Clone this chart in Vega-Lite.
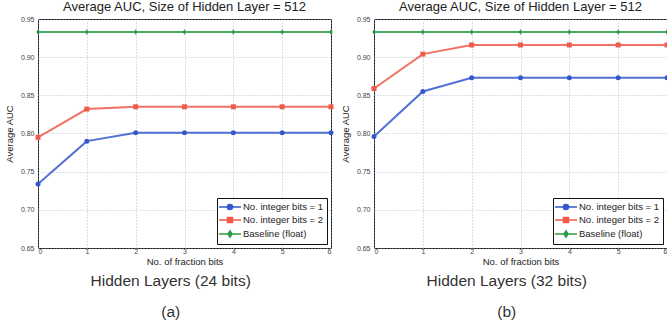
{
  "$schema": "https://vega.github.io/schema/vega-lite/v6.json",
  "padding": {"left": 3, "top": 0, "right": 0, "bottom": 0},
  "background": "white",
  "datasets": {
    "auc": [
      {"panel": "a", "series": "No. integer bits = 1", "bits": 0, "auc": 0.734},
      {"panel": "a", "series": "No. integer bits = 1", "bits": 1, "auc": 0.790},
      {"panel": "a", "series": "No. integer bits = 1", "bits": 2, "auc": 0.801},
      {"panel": "a", "series": "No. integer bits = 1", "bits": 3, "auc": 0.801},
      {"panel": "a", "series": "No. integer bits = 1", "bits": 4, "auc": 0.801},
      {"panel": "a", "series": "No. integer bits = 1", "bits": 5, "auc": 0.801},
      {"panel": "a", "series": "No. integer bits = 1", "bits": 6, "auc": 0.801},
      {"panel": "a", "series": "No. integer bits = 2", "bits": 0, "auc": 0.795},
      {"panel": "a", "series": "No. integer bits = 2", "bits": 1, "auc": 0.832},
      {"panel": "a", "series": "No. integer bits = 2", "bits": 2, "auc": 0.835},
      {"panel": "a", "series": "No. integer bits = 2", "bits": 3, "auc": 0.835},
      {"panel": "a", "series": "No. integer bits = 2", "bits": 4, "auc": 0.835},
      {"panel": "a", "series": "No. integer bits = 2", "bits": 5, "auc": 0.835},
      {"panel": "a", "series": "No. integer bits = 2", "bits": 6, "auc": 0.835},
      {"panel": "a", "series": "Baseline (float)", "bits": 0, "auc": 0.933},
      {"panel": "a", "series": "Baseline (float)", "bits": 1, "auc": 0.933},
      {"panel": "a", "series": "Baseline (float)", "bits": 2, "auc": 0.933},
      {"panel": "a", "series": "Baseline (float)", "bits": 3, "auc": 0.933},
      {"panel": "a", "series": "Baseline (float)", "bits": 4, "auc": 0.933},
      {"panel": "a", "series": "Baseline (float)", "bits": 5, "auc": 0.933},
      {"panel": "a", "series": "Baseline (float)", "bits": 6, "auc": 0.933},
      {"panel": "b", "series": "No. integer bits = 1", "bits": 0, "auc": 0.796},
      {"panel": "b", "series": "No. integer bits = 1", "bits": 1, "auc": 0.855},
      {"panel": "b", "series": "No. integer bits = 1", "bits": 2, "auc": 0.873},
      {"panel": "b", "series": "No. integer bits = 1", "bits": 3, "auc": 0.873},
      {"panel": "b", "series": "No. integer bits = 1", "bits": 4, "auc": 0.873},
      {"panel": "b", "series": "No. integer bits = 1", "bits": 5, "auc": 0.873},
      {"panel": "b", "series": "No. integer bits = 1", "bits": 6, "auc": 0.873},
      {"panel": "b", "series": "No. integer bits = 2", "bits": 0, "auc": 0.859},
      {"panel": "b", "series": "No. integer bits = 2", "bits": 1, "auc": 0.904},
      {"panel": "b", "series": "No. integer bits = 2", "bits": 2, "auc": 0.916},
      {"panel": "b", "series": "No. integer bits = 2", "bits": 3, "auc": 0.916},
      {"panel": "b", "series": "No. integer bits = 2", "bits": 4, "auc": 0.916},
      {"panel": "b", "series": "No. integer bits = 2", "bits": 5, "auc": 0.916},
      {"panel": "b", "series": "No. integer bits = 2", "bits": 6, "auc": 0.916},
      {"panel": "b", "series": "Baseline (float)", "bits": 0, "auc": 0.933},
      {"panel": "b", "series": "Baseline (float)", "bits": 1, "auc": 0.933},
      {"panel": "b", "series": "Baseline (float)", "bits": 2, "auc": 0.933},
      {"panel": "b", "series": "Baseline (float)", "bits": 3, "auc": 0.933},
      {"panel": "b", "series": "Baseline (float)", "bits": 4, "auc": 0.933},
      {"panel": "b", "series": "Baseline (float)", "bits": 5, "auc": 0.933},
      {"panel": "b", "series": "Baseline (float)", "bits": 6, "auc": 0.933}
    ]
  },
  "config": {
    "font": "Liberation Sans",
    "view": {"stroke": "#111", "strokeWidth": 1},
    "axis": {
      "grid": true,
      "gridColor": "#9fb0c8",
      "gridDash": [1, 2],
      "gridWidth": 0.8,
      "domain": false,
      "ticks": false,
      "labelFontSize": 7,
      "labelColor": "#444",
      "titleFontSize": 9.5,
      "titleFontWeight": "normal",
      "titleColor": "#222"
    },
    "title": {"font": "Liberation Sans"}
  },
  "resolve": {"legend": {"color": "independent", "stroke": "independent", "shape": "independent"}, "scale": {"color": "independent", "stroke": "independent", "shape": "independent"}},
  "spacing": 1,
  "hconcat": [
    {
      "resolve": {"legend": {"color": "independent", "stroke": "independent", "shape": "independent"}},
      "title": {"text": ["Hidden Layers (24 bits)", "(a)"], "orient": "bottom", "fontSize": 15.5, "fontWeight": "normal", "color": "#333", "lineHeight": 31, "offset": 8, "anchor": "middle"},
      "vconcat": [
        {
          "width": 293,
          "height": 229,
          "title": {"text": "Average AUC, Size of Hidden Layer = 512", "fontSize": 13, "fontWeight": "normal", "color": "#222", "offset": 1},
          "data": {"name": "auc"},
          "transform": [{"filter": "datum.panel === 'a'"}],
          "encoding": {
            "x": {"field": "bits", "type": "quantitative", "scale": {"domain": [0, 6], "nice": false}, "axis": {"title": "No. of fraction bits", "values": [0, 1, 2, 3, 4, 5, 6], "format": "d", "labelPadding": -1, "titlePadding": 2}},
            "y": {"field": "auc", "type": "quantitative", "scale": {"domain": [0.65, 0.95], "nice": false, "zero": false}, "axis": {"title": "Average AUC", "values": [0.65, 0.7, 0.75, 0.8, 0.85, 0.9, 0.95], "format": ".2f", "labelPadding": 4, "titlePadding": 6}}
          },
          "layer": [
            {"mark": {"type": "point", "filled": true, "opacity": 0},
             "encoding": {
               "color": {"field": "series", "type": "nominal", "scale": {"domain": ["No. integer bits = 1", "No. integer bits = 2", "Baseline (float)"], "range": ["#3558cc", "#f05a48", "#2f9a45"]},
                 "legend": {"title": null, "orient": "bottom-right", "offset": 4, "padding": 3, "strokeColor": "#111", "fillColor": "white", "cornerRadius": 0, "labelFontSize": 9.5, "labelColor": "#222", "symbolSize": 100, "symbolOffset": 4, "labelOffset": 7, "rowPadding": 1, "symbolStrokeWidth": 1.6, "symbolOpacity": 1}},
               "stroke": {"field": "series", "type": "nominal", "scale": {"domain": ["No. integer bits = 1", "No. integer bits = 2", "Baseline (float)"], "range": ["#3558cc", "#f05a48", "#2f9a45"]},
                 "legend": {"title": null, "orient": "bottom-right", "offset": 4, "padding": 3, "strokeColor": "#111", "fillColor": "white", "cornerRadius": 0, "labelFontSize": 9.5, "labelColor": "#222", "symbolSize": 100, "symbolOffset": 4, "labelOffset": 7, "rowPadding": 1, "symbolStrokeWidth": 1.6, "symbolOpacity": 1}},
               "shape": {"field": "series", "type": "nominal", "scale": {"domain": ["No. integer bits = 1", "No. integer bits = 2", "Baseline (float)"], "range": ["M-2.2,0L2.2,0M0.5,0A0.5,0.5,0,1,1,-0.5,0A0.5,0.5,0,1,1,0.5,0Z", "M-2.2,0L2.2,0M-0.5,-0.5L0.5,-0.5L0.5,0.5L-0.5,0.5Z", "M-2.2,0L2.2,0M0,-0.6L0.4,0L0,0.6L-0.4,0Z"]},
                 "legend": {"title": null, "orient": "bottom-right", "offset": 4, "padding": 3, "strokeColor": "#111", "fillColor": "white", "cornerRadius": 0, "labelFontSize": 9.5, "labelColor": "#222", "symbolSize": 100, "symbolOffset": 4, "labelOffset": 7, "rowPadding": 1, "symbolStrokeWidth": 1.6, "symbolOpacity": 1}}
             }},
            {"mark": {"type": "line", "strokeWidth": 2, "opacity": 0.85},
             "encoding": {"color": {"field": "series", "type": "nominal", "legend": null}}},
            {"transform": [{"filter": "datum.series === 'No. integer bits = 1'"}],
             "mark": {"type": "point", "filled": true, "size": 25, "opacity": 1, "shape": "circle", "color": "#3558cc"}},
            {"transform": [{"filter": "datum.series === 'No. integer bits = 2'"}],
             "mark": {"type": "point", "filled": true, "size": 25, "opacity": 1, "shape": "square", "color": "#f05a48"}},
            {"transform": [{"filter": "datum.series === 'Baseline (float)'"}],
             "mark": {"type": "point", "filled": true, "size": 25, "opacity": 1, "shape": "M0,-1.1L0.7,0L0,1.1L-0.7,0Z", "color": "#2f9a45"}}
          ]
        }
      ]
    },
    {
      "resolve": {"legend": {"color": "independent", "stroke": "independent", "shape": "independent"}},
      "title": {"text": ["Hidden Layers (32 bits)", "(b)"], "orient": "bottom", "fontSize": 15.5, "fontWeight": "normal", "color": "#333", "lineHeight": 31, "offset": 8, "anchor": "middle"},
      "vconcat": [
        {
          "width": 293,
          "height": 229,
          "title": {"text": "Average AUC, Size of Hidden Layer = 512", "fontSize": 13, "fontWeight": "normal", "color": "#222", "offset": 1},
          "data": {"name": "auc"},
          "transform": [{"filter": "datum.panel === 'b'"}],
          "encoding": {
            "x": {"field": "bits", "type": "quantitative", "scale": {"domain": [0, 6], "nice": false}, "axis": {"title": "No. of fraction bits", "values": [0, 1, 2, 3, 4, 5, 6], "format": "d", "labelPadding": -1, "titlePadding": 2}},
            "y": {"field": "auc", "type": "quantitative", "scale": {"domain": [0.65, 0.95], "nice": false, "zero": false}, "axis": {"title": "Average AUC", "values": [0.65, 0.7, 0.75, 0.8, 0.85, 0.9, 0.95], "format": ".2f", "labelPadding": 4, "titlePadding": 6}}
          },
          "layer": [
            {"mark": {"type": "point", "filled": true, "opacity": 0},
             "encoding": {
               "color": {"field": "series", "type": "nominal", "scale": {"domain": ["No. integer bits = 1", "No. integer bits = 2", "Baseline (float)"], "range": ["#3558cc", "#f05a48", "#2f9a45"]},
                 "legend": {"title": null, "orient": "bottom-right", "offset": 4, "padding": 3, "strokeColor": "#111", "fillColor": "white", "cornerRadius": 0, "labelFontSize": 9.5, "labelColor": "#222", "symbolSize": 100, "symbolOffset": 4, "labelOffset": 7, "rowPadding": 1, "symbolStrokeWidth": 1.6, "symbolOpacity": 1}},
               "stroke": {"field": "series", "type": "nominal", "scale": {"domain": ["No. integer bits = 1", "No. integer bits = 2", "Baseline (float)"], "range": ["#3558cc", "#f05a48", "#2f9a45"]},
                 "legend": {"title": null, "orient": "bottom-right", "offset": 4, "padding": 3, "strokeColor": "#111", "fillColor": "white", "cornerRadius": 0, "labelFontSize": 9.5, "labelColor": "#222", "symbolSize": 100, "symbolOffset": 4, "labelOffset": 7, "rowPadding": 1, "symbolStrokeWidth": 1.6, "symbolOpacity": 1}},
               "shape": {"field": "series", "type": "nominal", "scale": {"domain": ["No. integer bits = 1", "No. integer bits = 2", "Baseline (float)"], "range": ["M-2.2,0L2.2,0M0.5,0A0.5,0.5,0,1,1,-0.5,0A0.5,0.5,0,1,1,0.5,0Z", "M-2.2,0L2.2,0M-0.5,-0.5L0.5,-0.5L0.5,0.5L-0.5,0.5Z", "M-2.2,0L2.2,0M0,-0.6L0.4,0L0,0.6L-0.4,0Z"]},
                 "legend": {"title": null, "orient": "bottom-right", "offset": 4, "padding": 3, "strokeColor": "#111", "fillColor": "white", "cornerRadius": 0, "labelFontSize": 9.5, "labelColor": "#222", "symbolSize": 100, "symbolOffset": 4, "labelOffset": 7, "rowPadding": 1, "symbolStrokeWidth": 1.6, "symbolOpacity": 1}}
             }},
            {"mark": {"type": "line", "strokeWidth": 2, "opacity": 0.85},
             "encoding": {"color": {"field": "series", "type": "nominal", "legend": null}}},
            {"transform": [{"filter": "datum.series === 'No. integer bits = 1'"}],
             "mark": {"type": "point", "filled": true, "size": 25, "opacity": 1, "shape": "circle", "color": "#3558cc"}},
            {"transform": [{"filter": "datum.series === 'No. integer bits = 2'"}],
             "mark": {"type": "point", "filled": true, "size": 25, "opacity": 1, "shape": "square", "color": "#f05a48"}},
            {"transform": [{"filter": "datum.series === 'Baseline (float)'"}],
             "mark": {"type": "point", "filled": true, "size": 25, "opacity": 1, "shape": "M0,-1.1L0.7,0L0,1.1L-0.7,0Z", "color": "#2f9a45"}}
          ]
        }
      ]
    }
  ]
}
